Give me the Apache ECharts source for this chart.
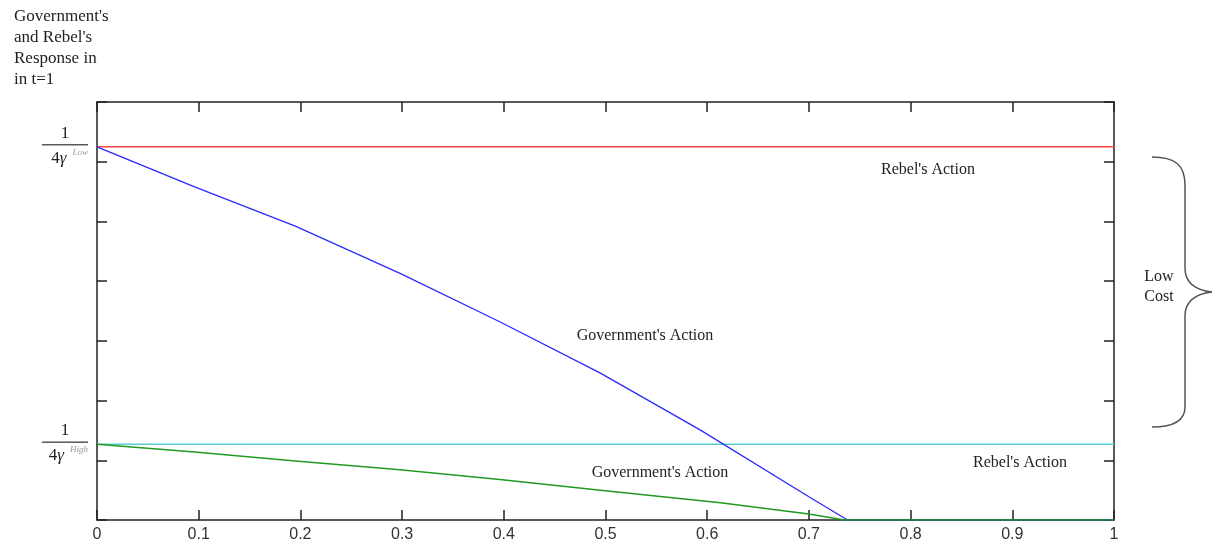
<!DOCTYPE html>
<html>
<head>
<meta charset="utf-8">
<script src="https://cdn.jsdelivr.net/npm/echarts@6/dist/echarts.min.js"></script>
<style>
  html, body { margin: 0; padding: 0; background: #fff; }
  #chart { width: 1220px; height: 548px; }
</style>
</head>
<body>
<div id="chart"></div>
<script>
// x share ticks
const xTicks = [0, 0.1, 0.2, 0.3, 0.4, 0.5, 0.6, 0.7, 0.8, 0.9, 1];

// rebel's action (flat lines)
const rebelLowX = [0, 1];
const rebelLowY = [6.25, 6.25];
const rebelHighX = [0, 1];
const rebelHighY = [1.27, 1.27];

// government's action, low cost
const govLowX = [0, 0.096, 0.195, 0.298, 0.396, 0.495, 0.593, 0.70, 0.738, 1];
const govLowY = [6.25, 5.58, 4.92, 4.13, 3.32, 2.46, 1.51, 0.39, 0, 0];

// government's action, high cost
const govHighX = [0, 0.096, 0.195, 0.298, 0.396, 0.495, 0.613, 0.70, 0.735, 1];
const govHighY = [1.27, 1.14, 0.99, 0.84, 0.68, 0.50, 0.29, 0.10, 0, 0];

// y labels: 1 / 4γ^Low , 1 / 4γ^High
const yMarks = [6.25, 1.27];
const yMarkSub = ['Low', 'High'];

const pairs = (xs, ys) => xs.map((x, i) => [x, ys[i]]);

const chart = echarts.init(document.getElementById('chart'));
const serif = 'Liberation Serif';

const frameAxis = {
  axisLine: { show: true, onZero: false, lineStyle: { color: '#222', width: 1.5 } },
  axisTick: { show: true, inside: true, length: 10, lineStyle: { color: '#222', width: 1.5 } },
  splitLine: { show: false }
};

const txt = (x, y, text, extra) => ({
  type: 'text', x: x, y: y,
  style: Object.assign({ text: text, font: '16px "Liberation Serif"', fill: '#222', align: 'center', verticalAlign: 'middle' }, extra || {})
});

// curly brace on the right
const braceStyle = { fill: 'none', stroke: '#555', lineWidth: 1.5 };
const bez = (x1, y1, c1x, c1y, c2x, c2y, x2, y2) => ({
  type: 'bezierCurve',
  shape: { x1: x1, y1: y1, cpx1: c1x, cpy1: c1y, cpx2: c2x, cpy2: c2y, x2: x2, y2: y2 },
  style: braceStyle
});
const seg = (x1, y1, x2, y2) => ({ type: 'line', shape: { x1: x1, y1: y1, x2: x2, y2: y2 }, style: braceStyle });

let option = {
  animation: false,
  backgroundColor: '#fff',
  grid: { left: 97, right: 106, top: 102, bottom: 28 },
  xAxis: [
    Object.assign({
      type: 'value', min: 0, max: 1, interval: 0.1, position: 'bottom',
      axisLabel: {
        color: '#333', fontSize: 16, fontFamily: 'Liberation Sans', margin: 7,
        formatter: v => String(xTicks[Math.round(v * 10)])
      }
    }, frameAxis),
    Object.assign({
      type: 'value', min: 0, max: 1, interval: 0.1, position: 'top',
      axisLabel: { show: false }
    }, frameAxis)
  ],
  yAxis: [
    Object.assign({
      type: 'value', min: 0, max: 7, interval: 1, position: 'left',
      axisLabel: {
        show: true, margin: 9, customValues: yMarks,
        formatter: v => {
          const i = yMarks.indexOf(v);
          return '{n|1}\n{hr|}\n{d|4}{g|γ}{s|' + yMarkSub[i] + '}';
        },
        rich: {
          n: { fontFamily: serif, fontSize: 17, color: '#222', align: 'center', width: 46, lineHeight: 17 },
          hr: { borderColor: '#333', borderWidth: 0.8, width: '100%', height: 0, lineHeight: 6 },
          d: { fontFamily: serif, fontSize: 17, color: '#222', lineHeight: 17, padding: [0, 0, 0, 2] },
          g: { fontFamily: serif, fontSize: 17, fontStyle: 'italic', color: '#222', lineHeight: 17 },
          s: { fontFamily: serif, fontSize: 9, fontStyle: 'italic', color: '#999', verticalAlign: 'top', padding: [0, 0, 12, 6] }
        }
      }
    }, frameAxis),
    Object.assign({
      type: 'value', min: 0, max: 7, interval: 1, position: 'right',
      axisLabel: { show: false }
    }, frameAxis)
  ],
  series: [
    {
      name: "Rebel's Action (low)", type: 'line', data: pairs(rebelLowX, rebelLowY),
      symbol: 'none', lineStyle: { color: '#ff4444', width: 1.5 }
    },
    {
      name: "Rebel's Action (high)", type: 'line', data: pairs(rebelHighX, rebelHighY),
      symbol: 'none', lineStyle: { color: '#55cfcf', width: 1.5 }
    },
    {
      name: "Government's Action (low)", type: 'line', data: pairs(govLowX, govLowY),
      symbol: 'none', lineStyle: { color: '#2a2aff', width: 1.3 }
    },
    {
      name: "Government's Action (high)", type: 'line', data: pairs(govHighX, govHighY),
      symbol: 'none', lineStyle: { color: '#1f9a1f', width: 1.5 }
    }
  ],
  graphic: [
    txt(14, 6, "Government's\nand Rebel's\nResponse in\nin t=1", { font: '17px "Liberation Serif"', align: 'left', verticalAlign: 'top', lineHeight: 21 }),
    txt(928, 170, "Rebel's Action"),
    txt(645, 336, "Government's Action"),
    txt(1020, 463, "Rebel's Action"),
    txt(660, 473, "Government's Action"),
    txt(1159, 287, 'Low\nCost', { lineHeight: 20 }),
    bez(1152, 157, 1175, 157, 1185, 165, 1185, 185),
    seg(1185, 185, 1185, 268),
    bez(1185, 268, 1185, 282, 1195, 290, 1212, 292),
    bez(1212, 292, 1195, 294, 1185, 302, 1185, 316),
    seg(1185, 316, 1185, 407),
    bez(1185, 407, 1185, 420, 1175, 427, 1152, 427)
  ]
};

chart.setOption(option);
</script>
</body>
</html>
